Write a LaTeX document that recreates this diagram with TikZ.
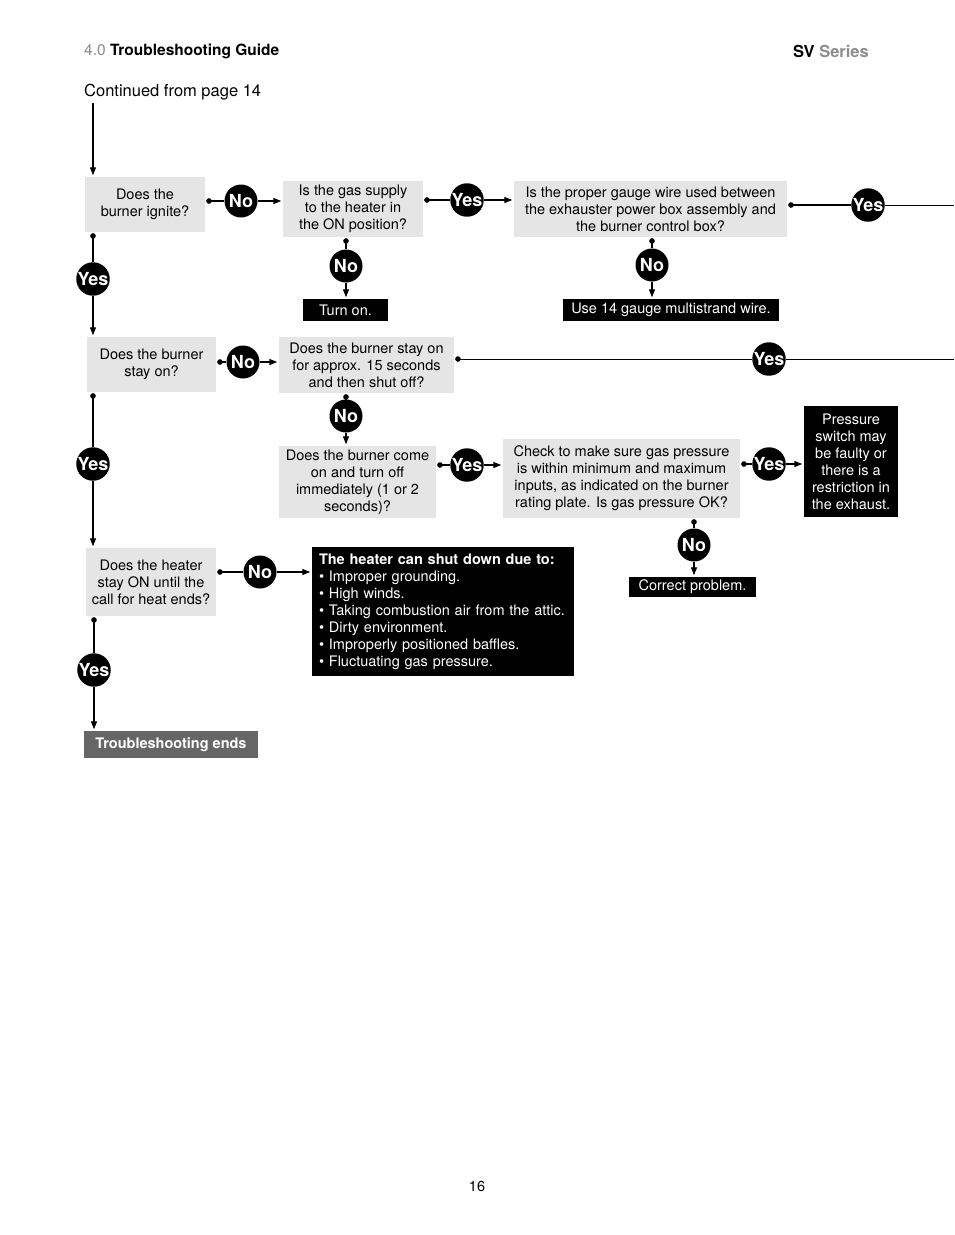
\documentclass[tikz,border=0pt]{standalone}
\usepackage{fontspec}
\setmainfont{TeX Gyre Heros}
\usetikzlibrary{arrows.meta,positioning}
\definecolor{headgray}{HTML}{8C8C8C}
\definecolor{endgray}{HTML}{666666}
\tikzset{
  qbox/.style={fill=black!10, align=center, inner sep=0pt, font=\fontsize{14.5}{17}\selectfont},
  ansbox/.style={fill=black, text=white, align=center, inner sep=0pt, font=\fontsize{14.5}{17}\selectfont},
  yn/.style={circle, fill=black, text=white, inner sep=0pt, minimum size=33pt, font=\bfseries\fontsize{18}{18}\selectfont},
  link/.style={line width=1.2pt, {Circle[length=5.5pt]}-, shorten <=1pt},
  lead/.style={line width=1.2pt, -{Triangle[length=8pt,width=6pt]}, shorten >=1.5pt},
  plain/.style={line width=1pt}
}
\begin{document}
\begin{tikzpicture}[x=1pt,y=-1pt]
\useasboundingbox (0,0) rectangle (954,1235);
\node[anchor=west, inner sep=0pt, font=\fontsize{15.5}{15.5}\selectfont] (head) at (84,51) {\textcolor{headgray}{4.0} \textbf{Troubleshooting Guide}};
\node[anchor=east, inner sep=0pt, font=\bfseries\fontsize{16.5}{16.5}\selectfont] (series) at (869,51) {SV \textcolor{headgray}{Series}};
\node[anchor=west, inner sep=0pt, font=\fontsize{16.5}{16.5}\selectfont] (cont) at (84,92) {Continued from page 14};
\node[inner sep=0pt, font=\fontsize{14.5}{17}\selectfont] (page) at (477,1186) {16};

\node[qbox, minimum width=120pt, minimum height=55pt] (ignite) at (145,204.5) {Does the\\burner ignite?};
\node[qbox, minimum width=140pt, minimum height=56pt] (gas) at (353,209) {Is the gas supply\\to the heater in\\the ON position?};
\node[qbox, minimum width=273pt, minimum height=56pt] (gauge) at (650.5,209) {Is the proper gauge wire used between\\the exhauster power box assembly and\\the burner control box?};
\node[ansbox, minimum width=85pt, minimum height=22pt] (turnon) at (345.5,310) {Turn on.};
\node[ansbox, minimum width=216pt, minimum height=22pt] (wire) at (671,310) {Use 14 gauge multistrand wire.};
\node[qbox, minimum width=129pt, minimum height=55pt] (stay) at (151.5,364.5) {Does the burner\\stay on?};
\node[qbox, minimum width=175pt, minimum height=56pt] (fifteen) at (366.5,365) {Does the burner stay on\\for approx. 15 seconds\\and then shut off?};
\node[qbox, minimum width=157pt, minimum height=72pt] (instant) at (357.5,482) {Does the burner come\\on and turn off\\immediately (1 or 2\\seconds)?};
\node[qbox, minimum width=237pt, minimum height=79pt] (pressure) at (621.5,478.5) {Check to make sure gas pressure\\is within minimum and maximum\\inputs, as indicated on the burner\\rating plate. Is gas pressure OK?};
\node[ansbox, minimum width=94pt, minimum height=111pt] (switch) at (851,461.5) {Pressure\\switch may\\be faulty or\\there is a\\restriction in\\the exhaust.};
\node[ansbox, minimum width=127pt, minimum height=20pt] (correct) at (692.5,587) {Correct problem.};
\node[qbox, minimum width=130pt, minimum height=68pt] (callheat) at (151,582) {Does the heater\\stay ON until the\\call for heat ends?};
\node[ansbox, align=left, text width=248pt, minimum width=262pt, minimum height=129pt] (causes) at (443,611.5) {\textbf{The heater can shut down due to:}\\\textbullet\ Improper grounding.\\\textbullet\ High winds.\\\textbullet\ Taking combustion air from the attic.\\\textbullet\ Dirty environment.\\\textbullet\ Improperly positioned baffles.\\\textbullet\ Fluctuating gas pressure.};
\node[fill=endgray, text=white, inner sep=0pt, minimum width=174pt, minimum height=27pt, font=\bfseries\fontsize{14.5}{17}\selectfont] (ends) at (171,744.5) {Troubleshooting ends};

\node[yn] (no1) at (241,201) {No};
\node[yn] (yes2) at (467,200) {Yes};
\node[yn] (yes3) at (868,205) {Yes};
\node[yn] (yes1) at (93,279) {Yes};
\node[yn] (no2) at (346,266) {No};
\node[yn] (no3) at (652,265) {No};
\node[yn] (no4) at (243,362) {No};
\node[yn] (yes4) at (769,359) {Yes};
\node[yn] (no5) at (346,416) {No};
\node[yn] (yes5) at (93,464) {Yes};
\node[yn] (yes6) at (467,465) {Yes};
\node[yn] (yes7) at (769,464) {Yes};
\node[yn] (no6) at (694,545) {No};
\node[yn] (no7) at (260,572) {No};
\node[yn] (yes8) at (94,670) {Yes};

\coordinate (top) at (93,103);
\coordinate (rim) at (954,0);
\draw[lead] (top) -- (top |- ignite.north);

\draw[link] (ignite.east |- no1) -- (no1);
\draw[lead] (no1) -- (no1 -| gas.west);
\draw[link] (gas.east |- yes2) -- (yes2);
\draw[lead] (yes2) -- (yes2 -| gauge.west);
\draw[link] (gauge.east |- yes3) -- (yes3);
\draw[plain] (yes3) -- (yes3 -| rim);
\draw[link] (no2 |- gas.south) -- (no2);
\draw[lead] (no2) -- (no2 |- turnon.north);
\draw[link] (no3 |- gauge.south) -- (no3);
\draw[lead] (no3) -- (no3 |- wire.north);

\draw[link] (yes1 |- ignite.south) -- (yes1);
\draw[lead] (yes1) -- (yes1 |- stay.north);
\draw[link] (stay.east |- no4) -- (no4);
\draw[lead] (no4) -- (no4 -| fifteen.west);
\draw[link, line width=1pt] (fifteen.east |- yes4) -- (yes4);
\draw[plain] (yes4) -- (yes4 -| rim);
\draw[link] (no5 |- fifteen.south) -- (no5);
\draw[lead] (no5) -- (no5 |- instant.north);
\draw[link] (instant.east |- yes6) -- (yes6);
\draw[lead] (yes6) -- (yes6 -| pressure.west);
\draw[link] (pressure.east |- yes7) -- (yes7);
\draw[lead] (yes7) -- (yes7 -| switch.west);
\draw[link] (no6 |- pressure.south) -- (no6);
\draw[lead] (no6) -- (no6 |- correct.north);

\draw[link] (yes5 |- stay.south) -- (yes5);
\draw[lead] (yes5) -- (yes5 |- callheat.north);
\draw[link] (callheat.east |- no7) -- (no7);
\draw[lead] (no7) -- (no7 -| causes.west);
\draw[link] (yes8 |- callheat.south) -- (yes8);
\draw[lead] (yes8) -- (yes8 |- ends.north);
\end{tikzpicture}
\end{document}
